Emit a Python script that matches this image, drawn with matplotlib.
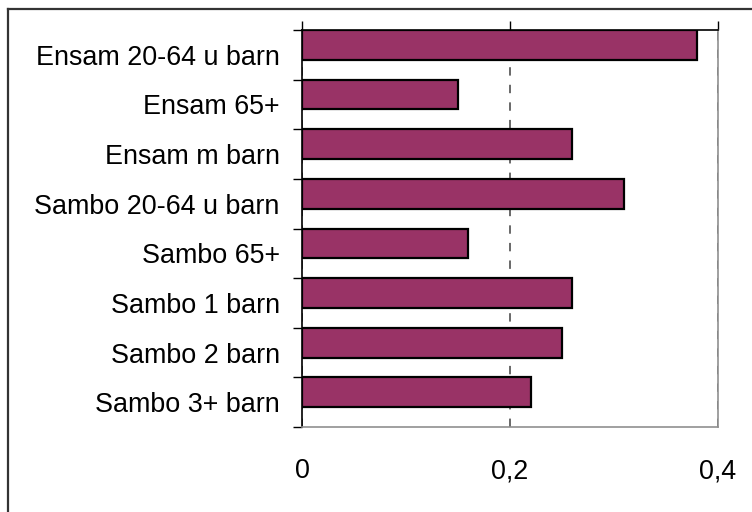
import numpy as np
import matplotlib.pyplot as plt
from matplotlib.lines import Line2D

plt.rcParams['font.family'] = ['Liberation Sans', 'DejaVu Sans']

# Kategorier och värden
kategorier = ['Ensam 20-64 u barn', 'Ensam 65+', 'Ensam m barn',
              'Sambo 20-64 u barn', 'Sambo 65+', 'Sambo 1 barn',
              'Sambo 2 barn', 'Sambo 3+ barn']
varden = [0.38, 0.15, 0.26, 0.31, 0.16, 0.26, 0.25, 0.22]
x_ticks = [0, 0.2, 0.4]
x_labels = ['0', '0,2', '0,4']

fig = plt.figure(figsize=(7.52, 5.12), dpi=100)
ax = fig.add_axes([302 / 752, 1 - 427 / 512, 416 / 752, 397 / 512])

pos = np.arange(len(kategorier))
ax.barh(pos, varden, height=0.6, align='edge', color='#993366',
        edgecolor='black', linewidth=1.6, zorder=3)

ax.set_xlim(0, 0.4)
ax.set_ylim(len(kategorier), 0)

# Värdeaxel: streck upptill, etiketter nedtill
ax.set_xticks(x_ticks)
ax.set_xticklabels(x_labels, fontsize=19.4)
ax.tick_params(axis='x', top=True, bottom=False, labeltop=False,
               labelbottom=True, direction='out', length=6.5, width=1,
               pad=16)
ax.xaxis.grid(True, color='#404040', linestyle=(0, (5.5, 6)),
              linewidth=1.1, zorder=1)

# Kategoriaxel: streck mellan kategorierna, etiketter i mitten
ax.set_yticks(pos + 0.5)
ax.set_yticklabels(kategorier, fontsize=19.4)
ax.set_yticks(np.arange(len(kategorier) + 1), minor=True)
ax.tick_params(axis='y', which='major', length=0, pad=16)
ax.tick_params(axis='y', which='minor', length=6.5, width=1,
               direction='out')

for s in ['left', 'top']:
    ax.spines[s].set_color('black')
    ax.spines[s].set_linewidth(1.2)
for s in ['right', 'bottom']:
    ax.spines[s].set_color('#909090')
    ax.spines[s].set_linewidth(1.2)

# Diagramram
fig.add_artist(Line2D([8 / 752, 8 / 752], [0, 1 - 9 / 512],
                      color='#333333', linewidth=1.6))
fig.add_artist(Line2D([8 / 752, 1], [1 - 9 / 512, 1 - 9 / 512],
                      color='#333333', linewidth=1.6))

fig.savefig('out.png', dpi=100)
